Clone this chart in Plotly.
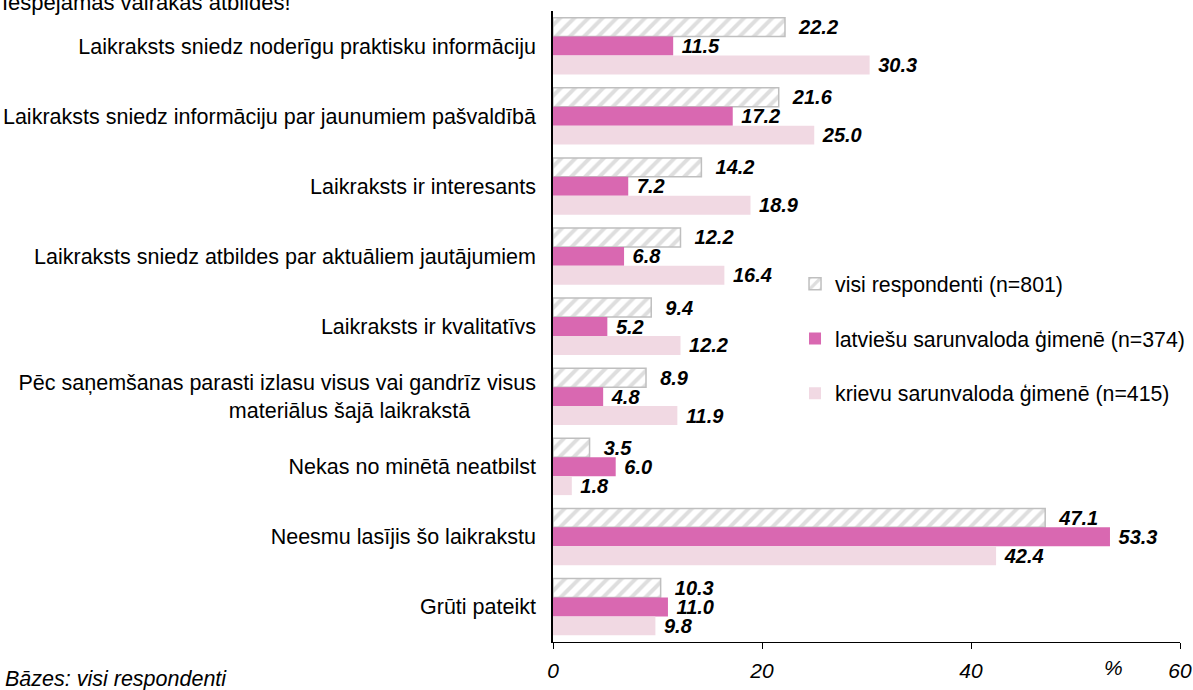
import plotly.graph_objects as go

categories = [
    "Laikraksts sniedz noderīgu praktisku informāciju",
    "Laikraksts sniedz informāciju par jaunumiem pašvaldībā",
    "Laikraksts ir interesants",
    "Laikraksts sniedz atbildes par aktuāliem jautājumiem",
    "Laikraksts ir kvalitatīvs",
    "Pēc saņemšanas parasti izlasu visus vai gandrīz visus<br>materiālus šajā laikrakstā" + "\u00a0" * 11,
    "Nekas no minētā neatbilst",
    "Neesmu lasījis šo laikrakstu",
    "Grūti pateikt",
]
series_names = [
    "visi respondenti (n=801)",
    "latviešu sarunvaloda ģimenē (n=374)",
    "krievu sarunvaloda ģimenē (n=415)",
]
visi = [22.2, 21.6, 14.2, 12.2, 9.4, 8.9, 3.5, 47.1, 10.3]
latv = [11.5, 17.2, 7.2, 6.8, 5.2, 4.8, 6.0, 53.3, 11.0]
kriev = [30.3, 25.0, 18.9, 16.4, 12.2, 11.9, 1.8, 42.4, 9.8]
x_ticks = [0, 20, 40, 60]

FONT = "Liberation Sans, Arial, sans-serif"
label_font = dict(family=FONT, size=20, color="black", weight="bold", style="italic")

fig = go.Figure()
fig.add_trace(go.Bar(
    y=categories, x=visi, orientation="h", name=series_names[0],
    legendgroup="a",
    marker=dict(color="white", line=dict(color="#BFBFBF", width=1.5),
                pattern=dict(shape="/", fgcolor="#BDBDBD", bgcolor="white", size=10, solidity=0.4)),
    text=visi, texttemplate="\u00a0\u00a0%{x:.1f}", textposition="outside",
    textfont=label_font, cliponaxis=False,
))
fig.add_trace(go.Bar(
    y=categories, x=latv, orientation="h", name=series_names[1],
    legendgroup="b",
    marker=dict(color="#D968B1", line=dict(width=0)),
    text=latv, texttemplate="\u00a0%{x:.1f}", textposition="outside",
    textfont=label_font, cliponaxis=False,
))
fig.add_trace(go.Bar(
    y=categories, x=kriev, orientation="h", name=series_names[2],
    legendgroup="c",
    marker=dict(color="#F1D9E3", line=dict(width=0)),
    text=kriev, texttemplate="\u00a0%{x:.1f}", textposition="outside",
    textfont=label_font, cliponaxis=False,
))

fig.update_layout(
    width=1193, height=690,
    margin=dict(l=553, r=13, t=11, b=48, autoexpand=False),
    paper_bgcolor="white", plot_bgcolor="white",
    barmode="group", bargap=0.19, bargroupgap=0,
    font=dict(family=FONT, size=21.5, color="black"),
    showlegend=True,
    legend=dict(x=0.386, y=0.6, xanchor="left", yanchor="top",
                font=dict(family=FONT, size=21.3, color="black"),
                tracegroupgap=24, bgcolor="rgba(0,0,0,0)", traceorder="grouped"),
    xaxis=dict(range=[0, 60], tickvals=x_ticks, ticktext=[str(v) for v in x_ticks],
               showgrid=False, zeroline=False, showline=True, linecolor="black", linewidth=1,
               ticks="outside", ticklen=6, tickcolor="black",
               tickfont=dict(family=FONT, size=21, style="italic"), ticklabelstandoff=4),
    yaxis=dict(autorange="reversed", showgrid=False, zeroline=False, showline=True,
               linecolor="black", linewidth=1.5, ticks="", ticklabelstandoff=11,
               tickfont=dict(family=FONT, size=21.5)),
)
fig.update_traces(constraintext="none")

fig.add_annotation(text="Iespējamas vairākas atbildes!", xref="paper", yref="paper",
                   x=-553/627, y=0.9905, xanchor="left", yanchor="bottom", showarrow=False,
                   font=dict(family=FONT, size=22, color="black"), align="left")
fig.add_annotation(text="Bāzes: visi respondenti", xref="paper", yref="paper",
                   x=-550/627, y=-37/631, xanchor="left", yanchor="middle", showarrow=False,
                   font=dict(family=FONT, size=21.5, color="black", style="italic"))
fig.add_annotation(text="%", xref="paper", yref="paper",
                   x=(1113-553)/627, y=-25/631, xanchor="center", yanchor="middle", showarrow=False,
                   font=dict(family=FONT, size=21, color="black", style="italic"))

fig.write_html("out.html", config={"displayModeBar": False},
               post_script="document.body.style.margin='0';document.body.style.padding='0';")
